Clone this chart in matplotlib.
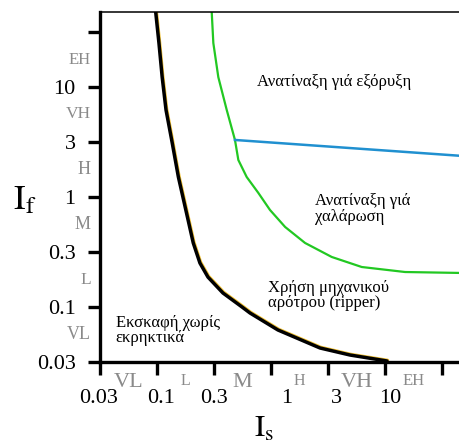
import matplotlib
matplotlib.use("Agg")
import matplotlib.pyplot as plt
import matplotlib.transforms as mtransforms

plt.rcParams['font.family'] = ['Liberation Serif', 'DejaVu Serif']
plt.rcParams['mathtext.fontset'] = 'stix'

# ---- data ----
tick_values = [10**-1.5, 10**-1.0, 10**-0.5, 1.0, 10**0.5, 10.0, 10**1.5]
tick_labels = ['0.03', '0.1', '0.3', '1', '3', '10', '']
class_labels = ['VL', 'L', 'M', 'H', 'VH', 'EH']

# black boundary: excavation without explosives / ripper
black_is = [0.0974, 0.104, 0.111, 0.120, 0.136, 0.154, 0.179, 0.208, 0.238, 0.280,
            0.379, 0.557, 0.654, 1.15, 2.69, 4.93, 10.4]
black_if = [48.0, 25.1, 12.3, 6.18, 3.10, 1.52, 0.762, 0.382, 0.251, 0.187,
            0.134, 0.100, 0.0882, 0.0618, 0.0424, 0.0366, 0.0323]

# green boundary: ripper / blasting
green_is = [0.302, 0.312, 0.345, 0.409, 0.483, 0.517, 0.612, 0.774, 0.98, 1.33,
            1.99, 3.41, 6.25, 15.0, 45.5]
green_if = [48.0, 25.1, 12.3, 6.18, 3.30, 2.17, 1.52, 1.09, 0.762, 0.534,
            0.382, 0.285, 0.231, 0.208, 0.204]

# blue boundary: loosening blasting / production blasting
blue_is = [0.483, 45.5]
blue_if = [3.30, 2.37]

# ---- figure ----
W, H = 460, 443
fig = plt.figure(figsize=(W / 100, H / 100), dpi=100)
ax = fig.add_axes([100 / W, 81 / H, 360 / W, 350 / H])
ax.set_xscale('log')
ax.set_yscale('log')
ax.set_xlim(10**-1.5, 10**(-1.5 + 0.5 * 360 / 57))
ax.set_ylim(10**-1.5, 10**(-1.5 + 0.5 * 350 / 55))

# faint yellow shadow of the black line
shadow = mtransforms.offset_copy(ax.transData, fig=fig, x=0.9, y=0.9, units='dots')
ax.plot(black_is, black_if, color='#f0c030', lw=2.0, transform=shadow,
        solid_capstyle='round', solid_joinstyle='round')
ax.plot(black_is, black_if, color='black', lw=2.5, solid_capstyle='round',
        solid_joinstyle='round')
ax.plot(green_is, green_if, color='#22c822', lw=1.6, solid_joinstyle='round')
ax.plot(blue_is, blue_if, color='#2090d0', lw=1.8)

# spines and ticks
for s in ['left', 'bottom']:
    ax.spines[s].set_linewidth(2.4)
ax.spines['top'].set_linewidth(1.1)
ax.spines['right'].set_visible(False)
ax.minorticks_off()
ax.set_xticks(tick_values)
ax.set_yticks(tick_values)
ax.set_xticklabels(tick_labels, fontsize=16)
ax.set_yticklabels(tick_labels, fontsize=16)
ax.tick_params(axis='x', direction='out', length=9.5, width=2.4, pad=10)
ax.tick_params(axis='y', direction='out', length=8.5, width=2.4, pad=9)

# small horizontal shifts of some x tick labels (as in the original)
x_shift_px = [-1, 4, 0, 16, 8, 5, 0]
for lab, dx in zip(ax.get_xticklabels(), x_shift_px):
    lab.set_transform(lab.get_transform() + mtransforms.ScaledTranslation(dx / 100, 0, fig.dpi_scale_trans))

# class labels between ticks
gray = '#8a8a8a'
x_sizes = [16, 11.5, 16, 11.5, 16, 12]
y_sizes = [13, 12.5, 13, 13, 12.5, 12]
tx = ax.get_xaxis_transform()
ty = ax.get_yaxis_transform()
for i, lab in enumerate(class_labels):
    mid = (tick_values[i] * tick_values[i + 1]) ** 0.5
    ax.text(mid, -0.031, lab, transform=tx, ha='center', va='top',
            fontsize=x_sizes[i], color=gray, clip_on=False)
    ax.text(-0.025, mid, lab, transform=ty, ha='right', va='center',
            fontsize=y_sizes[i], color=gray, clip_on=False)

# axis titles
fig.text(13 / W, 1 - 209 / H, r'$\mathrm{I}_{\mathrm{f}}$', fontsize=25, ha='left', va='baseline')
fig.text(254 / W, 1 - 437 / H, r'$\mathrm{I}_{\mathrm{s}}$', fontsize=22, ha='left', va='baseline')

# region labels
fs = 12
ax.text(0.436, 0.80, 'Ανατίναξη γιά εξόρυξη', transform=ax.transAxes, fontsize=fs,
        ha='left', va='center')
ax.text(0.597, 0.437, 'Ανατίναξη γιά\nχαλάρωση', transform=ax.transAxes, fontsize=fs,
        ha='left', va='center', linespacing=1.0)
ax.text(0.467, 0.19, 'Χρήση μηχανικού\nαρότρου (ripper)', transform=ax.transAxes, fontsize=fs,
        ha='left', va='center', linespacing=0.9)
ax.text(0.044, 0.091, 'Εκσκαφή χωρίς\nεκρηκτικά', transform=ax.transAxes, fontsize=fs,
        ha='left', va='center', linespacing=0.9)

fig.savefig('out.png', dpi=100)
